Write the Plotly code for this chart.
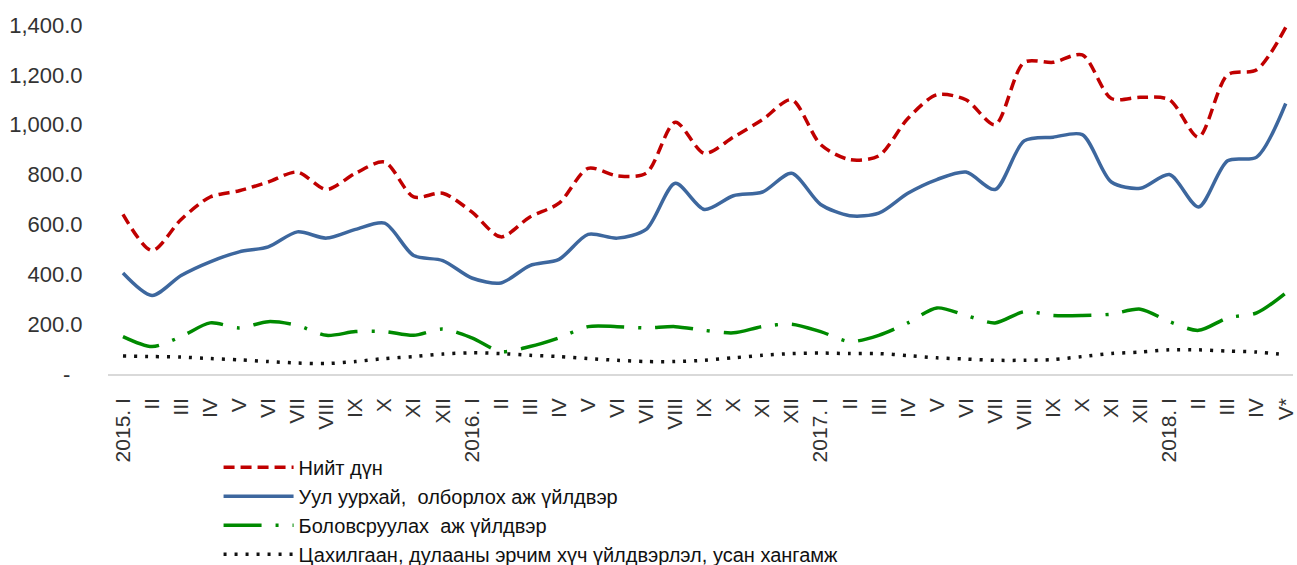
import plotly.graph_objects as go

roman = ["I", "II", "III", "IV", "V", "VI", "VII", "VIII", "IX", "X", "XI", "XII"]
tick_labels = (["2015. I"] + roman[1:] + ["2016. I"] + roman[1:] +
               ["2017. I"] + roman[1:] + ["2018. I", "II", "III", "IV", "V*"])

total = [640, 495, 620, 710, 735, 770, 810, 740, 805, 850, 710, 725,
         650, 550, 630, 685, 825, 795, 805, 1010, 885, 950, 1020, 1100,
         920, 860, 875, 1025, 1120, 1100, 1000, 1250, 1250, 1280, 1105, 1110,
         1100, 950, 1200, 1220, 1390]
mining = [405, 315, 395, 450, 490, 510, 570, 545, 580, 605, 475, 455,
          385, 365, 435, 460, 560, 545, 580, 765, 660, 715, 730, 805,
          680, 635, 645, 725, 780, 810, 740, 935, 950, 960, 770, 745,
          800, 670, 855, 870, 1085]
manuf = [150, 110, 150, 205, 185, 210, 195, 155, 170, 170, 155, 180,
         145, 90, 110, 145, 190, 190, 185, 190, 175, 165, 190, 200,
         170, 130, 155, 205, 265, 235, 205, 250, 235, 235, 240, 260,
         210, 175, 225, 245, 325]
power = [72, 70, 68, 62, 57, 50, 44, 42, 50, 62, 70, 80,
         85, 82, 75, 70, 62, 55, 50, 50, 55, 65, 75, 82,
         84, 82, 82, 74, 65, 60, 55, 55, 58, 70, 82, 88,
         97, 97, 92, 88, 78]

names = ["Нийт дүн",
         "Уул уурхай,  олборлох аж үйлдвэр",
         "Боловсруулах  аж үйлдвэр",
         "Цахилгаан, дулааны эрчим хүч үйлдвэрлэл, усан хангамж"]

y_ticks = [0, 200, 400, 600, 800, 1000, 1200, 1400]
y_text = ["-\u2007"] + [f"{v:,.1f}" for v in y_ticks[1:]]

x = list(range(len(tick_labels)))

fig = go.Figure()
fig.add_trace(go.Scatter(x=x, y=total, name=names[0], mode="lines",
                         line=dict(color="#C00000", width=3.5, dash="11px,6px",
                                   shape="spline", smoothing=0.8)))
fig.add_trace(go.Scatter(x=x, y=mining, name=names[1], mode="lines",
                         line=dict(color="#3D679E", width=3.5,
                                   shape="spline", smoothing=0.8)))
fig.add_trace(go.Scatter(x=x, y=manuf, name=names[2], mode="lines",
                         line=dict(color="#008A00", width=3.5, dash="38px,14px,3px,14px",
                                   shape="spline", smoothing=0.8)))
fig.add_trace(go.Scatter(x=x, y=power, name=names[3], mode="lines",
                         line=dict(color="#111111", width=3.5, dash="3px,8px",
                                   shape="spline", smoothing=0.8)))

fig.update_layout(
    width=1297, height=565,
    margin=dict(l=108, r=4, t=5, b=191, autoexpand=False),
    paper_bgcolor="white", plot_bgcolor="white",
    font=dict(family="Liberation Sans, Arial, sans-serif", size=20, color="#333333"),
    showlegend=True,
    legend=dict(x=0.0933, xanchor="left", y=-0.2, yanchor="top",
                orientation="v", font=dict(size=20, color="#111111"),
                bgcolor="rgba(0,0,0,0)", itemwidth=70, tracegroupgap=0),
    xaxis=dict(range=[-0.515, 40.25], tickmode="array", tickvals=x,
               ticktext=tick_labels, tickangle=-90, showgrid=False,
               zeroline=False, showline=True, linecolor="#D9D9D9", linewidth=1.5,
               ticks="outside", ticklen=14, tickcolor="rgba(0,0,0,0)",
               automargin=False, tickfont=dict(size=21, color="#333333")),
    yaxis=dict(range=[0, 1480], tickmode="array", tickvals=y_ticks,
               ticktext=y_text, showgrid=False, zeroline=False, showline=False,
               ticks="outside", ticklen=20, tickcolor="rgba(0,0,0,0)",
               automargin=False, tickfont=dict(size=22, color="#333333")),
)

fig.write_html("out.html", config={"displayModeBar": False},
               post_script="document.body.style.margin='0';")
